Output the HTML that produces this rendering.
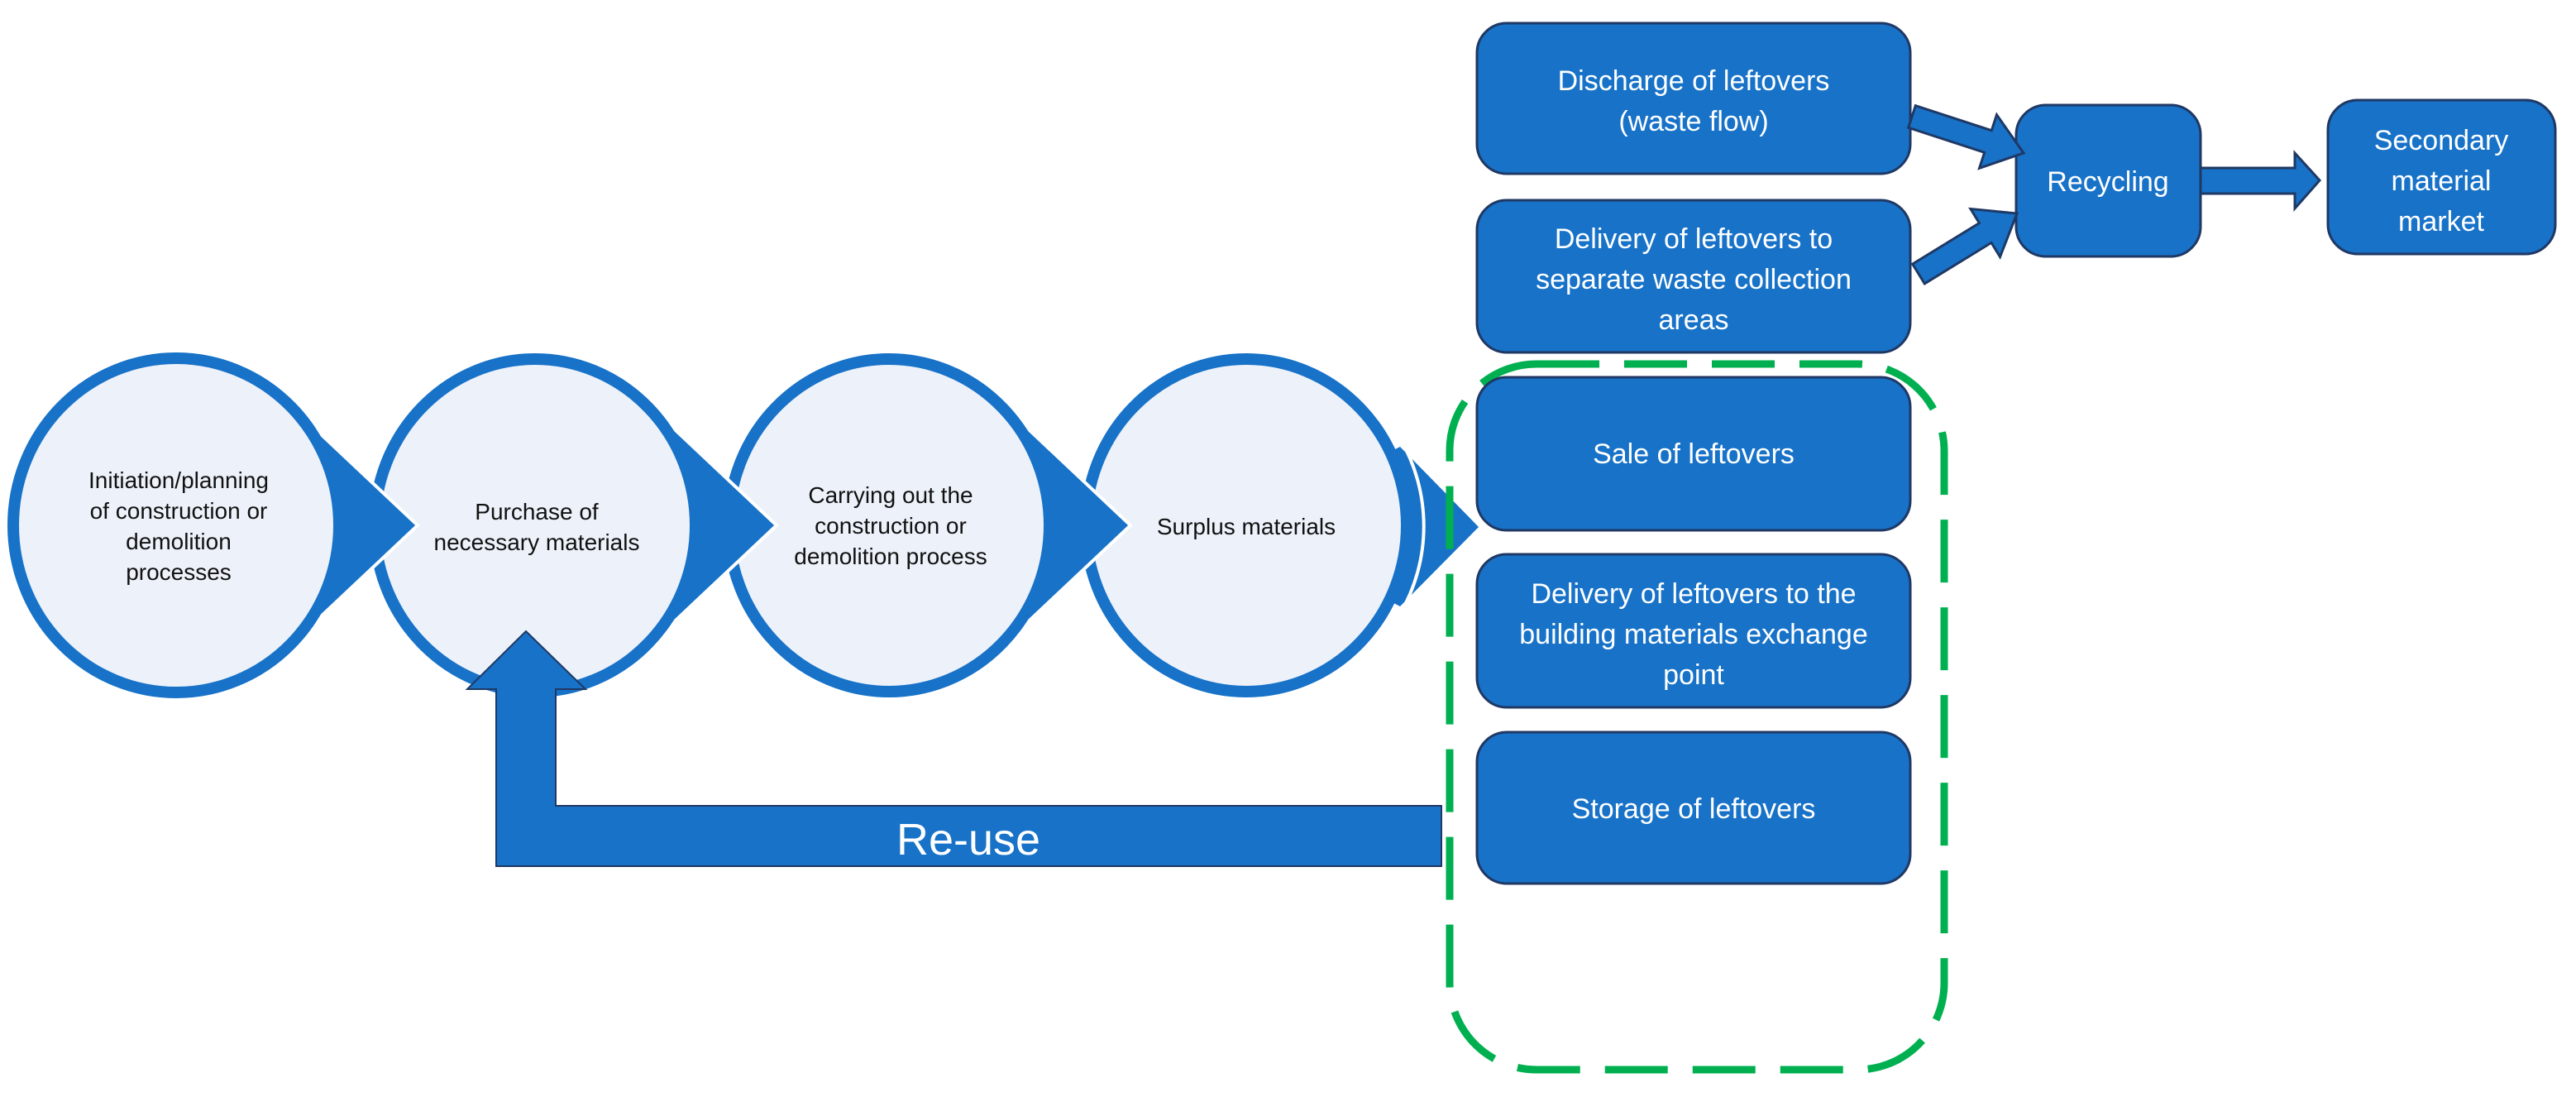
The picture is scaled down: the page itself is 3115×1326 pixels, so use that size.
<!DOCTYPE html>
<html><head><meta charset="utf-8"><style>
html,body{margin:0;padding:0;background:#fff;}
svg{display:block;}
text{font-family:"Liberation Sans",sans-serif;}
</style></head><body>
<svg width="3115" height="1326" viewBox="0 0 3115 1326" xmlns="http://www.w3.org/2000/svg">
<defs>
<polygon id="tri" points="0,0 137,-146 292,0 137,146"/>
</defs>
<polygon points="1507,635 1693,540 1788,637 1693,733" fill="#1772c8"/>
<path d="M1693,530 A210,210 0 0 1 1693,742" fill="none" stroke="#fff" stroke-width="4"/>
<ellipse cx="1507" cy="635" rx="194" ry="201" fill="#edf2fa" stroke="#1772c8" stroke-width="14"/>
<use href="#tri" x="1075" y="635" fill="#1772c8" stroke="#fff" stroke-width="4"/>
<ellipse cx="1075" cy="635" rx="194" ry="201" fill="#edf2fa" stroke="#1772c8" stroke-width="14"/>
<use href="#tri" x="647" y="635" fill="#1772c8" stroke="#fff" stroke-width="4"/>
<ellipse cx="647" cy="635" rx="194" ry="201" fill="#edf2fa" stroke="#1772c8" stroke-width="14"/>
<use href="#tri" x="213" y="635" fill="#1772c8" stroke="#fff" stroke-width="4"/>
<ellipse cx="213" cy="635" rx="197" ry="202" fill="#edf2fa" stroke="#1772c8" stroke-width="14"/>

<g font-size="28" fill="#111" text-anchor="middle">
<text x="216" y="590">Initiation/planning</text>
<text x="216" y="627">of construction or</text>
<text x="216" y="664">demolition</text>
<text x="216" y="701">processes</text>
<text x="649" y="628">Purchase of</text>
<text x="649" y="665">necessary materials</text>
<text x="1077" y="608">Carrying out the</text>
<text x="1077" y="645">construction or</text>
<text x="1077" y="682">demolition process</text>
<text x="1507" y="646">Surplus materials</text>
</g>

<polygon points="600,1047 1743,1047 1743,974 672,974 672,833 708,833 636,763 565,833 600,833" fill="#1772c8" stroke="#1f3864" stroke-width="2"/>
<text x="1171" y="1033" font-size="54" fill="#fff" text-anchor="middle">Re-use</text>

<rect x="1753" y="440" width="598" height="853" rx="105" fill="none" stroke="#00b050" stroke-width="9" stroke-dasharray="76,30"/>

<g fill="#1772c8" stroke="#1f3864" stroke-width="3">
<rect x="1786" y="28" width="524" height="182" rx="36"/>
<rect x="1786" y="242" width="524" height="184" rx="36"/>
<rect x="1786" y="456" width="524" height="185" rx="36"/>
<rect x="1786" y="670" width="524" height="185" rx="36"/>
<rect x="1786" y="885" width="524" height="183" rx="36"/>
<rect x="2438" y="127" width="223" height="183" rx="36"/>
<rect x="2815" y="121" width="275" height="186" rx="36"/>
<polygon points="2316.3,127.7 2408.3,157.7 2414.5,138.7 2447,185 2393.5,203.3 2399.7,184.3 2307.7,154.3"/>
<polygon points="2312.7,319.1 2393.4,269.6 2382.9,252.5 2439,258 2418.5,310.5 2408,293.4 2327.3,342.9"/>
<polygon points="2661,203 2775,203 2775,185 2805,218 2775,252 2775,234 2661,234"/>
</g>
<g font-size="34" fill="#fff" text-anchor="middle">
<text x="2048" y="109">Discharge of leftovers</text>
<text x="2048" y="158">(waste flow)</text>
<text x="2048" y="300">Delivery of leftovers to</text>
<text x="2048" y="349">separate waste collection</text>
<text x="2048" y="398">areas</text>
<text x="2048" y="560">Sale of leftovers</text>
<text x="2048" y="729">Delivery of leftovers to the</text>
<text x="2048" y="778">building materials exchange</text>
<text x="2048" y="827">point</text>
<text x="2048" y="989">Storage of leftovers</text>
<text x="2549" y="231">Recycling</text>
<text x="2952" y="181">Secondary</text>
<text x="2952" y="230">material</text>
<text x="2952" y="279">market</text>
</g>
</svg>
</body></html>
